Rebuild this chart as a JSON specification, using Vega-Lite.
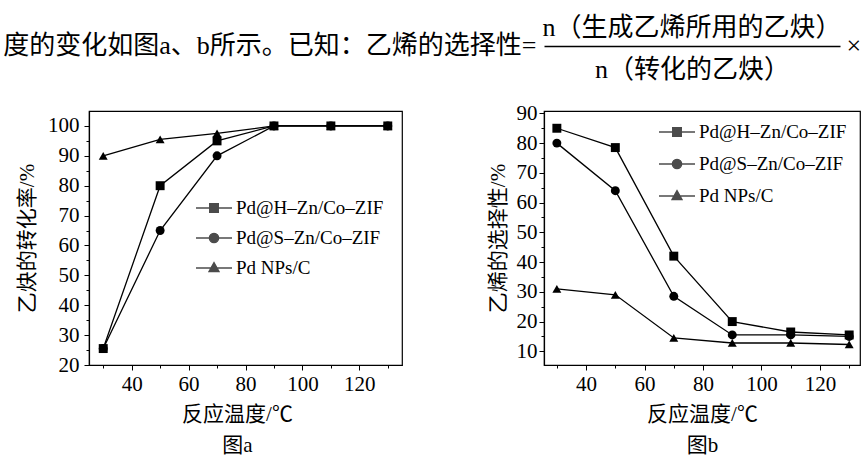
{
  "$schema": "https://vega.github.io/schema/vega-lite/v6.json",
  "padding": {"left": 2, "top": 14, "right": 0, "bottom": 0},
  "background": "white",
  "columns": 2,
  "spacing": {"row": 65, "column": 142},
  "bounds": "flush",
  "align": "each",
  "config": {
    "view": {"stroke": "black", "strokeWidth": 1.2},
    "axis": {"grid": false, "domainColor": "black", "domainWidth": 1.2, "tickColor": "black", "tickWidth": 1,
      "labelFont": "Liberation Serif", "labelFontSize": 21, "labelColor": "black",
      "titleFont": "Liberation Serif, Noto Sans CJK SC", "titleFontSize": 21, "titleFontWeight": "normal", "titleColor": "black",
      "labelOverlap": false, "labelFlush": false},
    "legend": {"labelFont": "Liberation Serif", "labelFontSize": 19, "labelColor": "black", "symbolSize": 1296,
      "padding": 0, "rowPadding": 1, "labelOffset": 3, "symbolStrokeWidth": 1.3},
    "title": {"font": "Liberation Serif, Noto Sans CJK SC", "fontWeight": "normal", "color": "black"}
  },
  "datasets": {
    "a": [
      {"s": "Pd NPs/C", "T": 30, "v": 90}, {"s": "Pd NPs/C", "T": 50, "v": 95.5}, {"s": "Pd NPs/C", "T": 70, "v": 97.5},
      {"s": "Pd NPs/C", "T": 90, "v": 100}, {"s": "Pd NPs/C", "T": 110, "v": 100}, {"s": "Pd NPs/C", "T": 130, "v": 100},
      {"s": "Pd@S–Zn/Co–ZIF", "T": 30, "v": 25.5}, {"s": "Pd@S–Zn/Co–ZIF", "T": 50, "v": 65}, {"s": "Pd@S–Zn/Co–ZIF", "T": 70, "v": 90},
      {"s": "Pd@S–Zn/Co–ZIF", "T": 90, "v": 100}, {"s": "Pd@S–Zn/Co–ZIF", "T": 110, "v": 100}, {"s": "Pd@S–Zn/Co–ZIF", "T": 130, "v": 100},
      {"s": "Pd@H–Zn/Co–ZIF", "T": 30, "v": 25.5}, {"s": "Pd@H–Zn/Co–ZIF", "T": 50, "v": 80}, {"s": "Pd@H–Zn/Co–ZIF", "T": 70, "v": 95},
      {"s": "Pd@H–Zn/Co–ZIF", "T": 90, "v": 100}, {"s": "Pd@H–Zn/Co–ZIF", "T": 110, "v": 100}, {"s": "Pd@H–Zn/Co–ZIF", "T": 130, "v": 100}
    ],
    "b": [
      {"s": "Pd NPs/C", "T": 30, "v": 31}, {"s": "Pd NPs/C", "T": 50, "v": 29}, {"s": "Pd NPs/C", "T": 70, "v": 14.5},
      {"s": "Pd NPs/C", "T": 90, "v": 12.8}, {"s": "Pd NPs/C", "T": 110, "v": 12.8}, {"s": "Pd NPs/C", "T": 130, "v": 12.3},
      {"s": "Pd@S–Zn/Co–ZIF", "T": 30, "v": 80}, {"s": "Pd@S–Zn/Co–ZIF", "T": 50, "v": 64}, {"s": "Pd@S–Zn/Co–ZIF", "T": 70, "v": 28.5},
      {"s": "Pd@S–Zn/Co–ZIF", "T": 90, "v": 15.5}, {"s": "Pd@S–Zn/Co–ZIF", "T": 110, "v": 15.5}, {"s": "Pd@S–Zn/Co–ZIF", "T": 130, "v": 15},
      {"s": "Pd@H–Zn/Co–ZIF", "T": 30, "v": 85}, {"s": "Pd@H–Zn/Co–ZIF", "T": 50, "v": 78.5}, {"s": "Pd@H–Zn/Co–ZIF", "T": 70, "v": 42},
      {"s": "Pd@H–Zn/Co–ZIF", "T": 90, "v": 20}, {"s": "Pd@H–Zn/Co–ZIF", "T": 110, "v": 16.5}, {"s": "Pd@H–Zn/Co–ZIF", "T": 130, "v": 15.5}
    ]
  },
  "concat": [
    {
      "width": 313, "height": 1,
      "view": {"stroke": null},
      "mark": {"type": "point", "opacity": 0},
      "encoding": {}
    },
    {
      "width": 296, "height": 1,
      "view": {"stroke": null},
      "title": {"text": "n（生成乙烯所用的乙炔）", "fontSize": 26, "baseline": "bottom", "offset": -34, "anchor": "middle"},
      "layer": [
        {
          "mark": {"type": "point", "opacity": 0},
          "encoding": {
            "x": {"datum": 0, "type": "quantitative", "scale": {"domain": [0, 1]},
              "axis": {"ticks": false, "labels": false, "domain": true, "domainWidth": 1.5, "title": "n（转化的乙炔）", "titleFontSize": 26, "titlePadding": 10}},
            "y": {"datum": 0, "type": "quantitative",
              "axis": {"orient": "left", "domain": false, "ticks": false, "labels": false,
                "title": "度的变化如图a、b所示。已知：乙烯的选择性=", "titleFontSize": 26, "titleAngle": 0, "titleAlign": "right", "titleBaseline": "middle", "titlePadding": 8}}
          }
        },
        {
          "mark": {"type": "point", "opacity": 0},
          "encoding": {
            "y": {"datum": 0, "type": "quantitative",
              "axis": {"orient": "right", "domain": false, "ticks": false, "labels": false,
                "title": "×", "titleFontSize": 26, "titleAngle": 0, "titleAlign": "left", "titleBaseline": "middle", "titlePadding": 6}}
          }
        }
      ],
      "resolve": {"axis": {"y": "independent"}, "scale": {"y": "independent"}}
    },
    {
      "width": 313, "height": 254,
      "data": {"name": "a"},
      "layer": [
        {
          "mark": {"type": "line", "color": "black", "strokeWidth": 1.3},
          "encoding": {
            "x": {"field": "T", "type": "quantitative", "scale": {"domain": [25, 135], "nice": false},
              "axis": {"values": [30, 40, 50, 60, 70, 80, 90, 100, 110, 120, 130], "tickCount": 50, "labelOverlap": false,
                "labelExpr": "datum.value % 20 === 0 ? datum.label : ''",
                "tickSize": {"condition": {"test": "datum.value % 20 === 0", "value": 5}, "value": 3},
                "labelPadding": 3, "title": ["反应温度/℃", "图a"], "titlePadding": 9, "titleLineHeight": 31, "titleX": 148}},
            "y": {"field": "v", "type": "quantitative", "scale": {"domain": [20, 105], "nice": false, "zero": false},
              "axis": {"values": [20, 25, 30, 35, 40, 45, 50, 55, 60, 65, 70, 75, 80, 85, 90, 95, 100], "tickCount": 50, "labelOverlap": false,
                "labelExpr": "datum.value % 10 === 0 ? datum.label : ''",
                "tickSize": {"condition": {"test": "datum.value % 10 === 0", "value": 5}, "value": 3},
                "labelPadding": 5, "title": "乙炔的转化率/%", "titlePadding": 10}},
            "detail": {"field": "s"}
          }
        },
        {
          "mark": {"type": "point", "filled": true, "color": "black", "opacity": 1, "size": 80},
          "encoding": {
            "x": {"field": "T", "type": "quantitative"},
            "y": {"field": "v", "type": "quantitative"},
            "shape": {"field": "s", "type": "nominal",
              "scale": {"domain": ["Pd@H–Zn/Co–ZIF", "Pd@S–Zn/Co–ZIF", "Pd NPs/C"], "range": ["square", "circle", "triangle-up"]},
              "legend": null}
          }
        },
        {
          "transform": [{"filter": "false"}],
          "mark": {"type": "point", "filled": true, "fill": "black", "stroke": "black", "strokeWidth": 1.3},
          "encoding": {
            "shape": {"field": "s", "type": "nominal",
              "scale": {"domain": ["Pd@H–Zn/Co–ZIF", "Pd@S–Zn/Co–ZIF", "Pd NPs/C"],
                "range": ["M-1,0H1M-0.24,-0.24H0.24V0.24H-0.24Z", "M-1,0H1M-0.26,0A0.26,0.26,0,1,0,0.26,0A0.26,0.26,0,1,0,-0.26,0Z", "M-1,0H1M0,-0.3L0.28,0.2H-0.28Z"]},
              "legend": {"title": null, "orient": "none", "legendX": 106, "legendY": 78}}
          }
        }
      ],
      "resolve": {"scale": {"shape": "independent"}}
    },
    {
      "width": 316, "height": 254,
      "data": {"name": "b"},
      "layer": [
        {
          "mark": {"type": "line", "color": "black", "strokeWidth": 1.3},
          "encoding": {
            "x": {"field": "T", "type": "quantitative", "scale": {"domain": [25.6, 133.7], "nice": false},
              "axis": {"values": [30, 40, 50, 60, 70, 80, 90, 100, 110, 120, 130], "tickCount": 50, "labelOverlap": false,
                "labelExpr": "datum.value % 20 === 0 ? datum.label : ''",
                "tickSize": {"condition": {"test": "datum.value % 20 === 0", "value": 5}, "value": 3},
                "labelPadding": 3, "title": ["反应温度/℃", "图b"], "titlePadding": 9, "titleLineHeight": 31}},
            "y": {"field": "v", "type": "quantitative", "scale": {"domain": [5.4, 90.8], "nice": false, "zero": false},
              "axis": {"values": [10, 15, 20, 25, 30, 35, 40, 45, 50, 55, 60, 65, 70, 75, 80, 85, 90], "tickCount": 50, "labelOverlap": false,
                "labelExpr": "datum.value % 10 === 0 ? datum.label : ''",
                "tickSize": {"condition": {"test": "datum.value % 10 === 0", "value": 5}, "value": 3},
                "labelPadding": 2, "title": "乙烯的选择性/%", "titlePadding": 8}},
            "detail": {"field": "s"}
          }
        },
        {
          "mark": {"type": "point", "filled": true, "color": "black", "opacity": 1, "size": 80},
          "encoding": {
            "x": {"field": "T", "type": "quantitative"},
            "y": {"field": "v", "type": "quantitative"},
            "shape": {"field": "s", "type": "nominal",
              "scale": {"domain": ["Pd@H–Zn/Co–ZIF", "Pd@S–Zn/Co–ZIF", "Pd NPs/C"], "range": ["square", "circle", "triangle-up"]},
              "legend": null}
          }
        },
        {
          "transform": [{"filter": "false"}],
          "mark": {"type": "point", "filled": true, "fill": "black", "stroke": "black", "strokeWidth": 1.3},
          "encoding": {
            "shape": {"field": "s", "type": "nominal",
              "scale": {"domain": ["Pd@H–Zn/Co–ZIF", "Pd@S–Zn/Co–ZIF", "Pd NPs/C"],
                "range": ["M-1,0H1M-0.24,-0.24H0.24V0.24H-0.24Z", "M-1,0H1M-0.26,0A0.26,0.26,0,1,0,0.26,0A0.26,0.26,0,1,0,-0.26,0Z", "M-1,0H1M0,-0.3L0.28,0.2H-0.28Z"]},
              "legend": {"title": null, "orient": "none", "legendX": 114, "legendY": 2, "rowPadding": 3}}
          }
        }
      ],
      "resolve": {"scale": {"shape": "independent"}}
    }
  ]
}
